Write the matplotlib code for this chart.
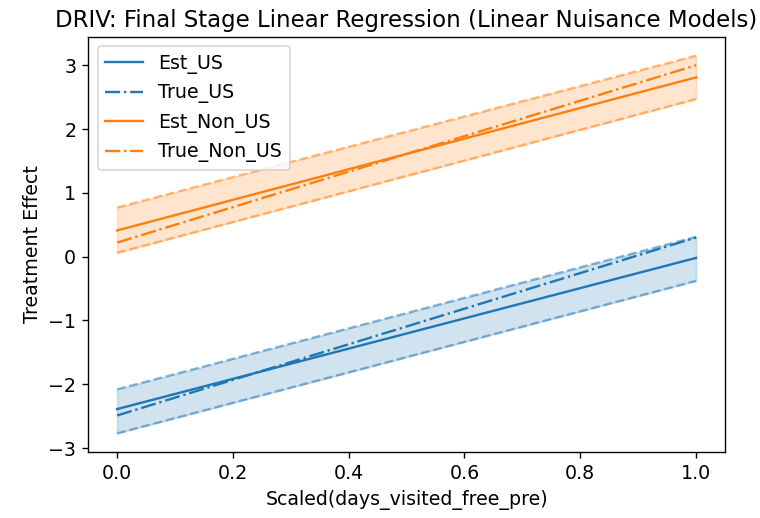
import numpy as np
import matplotlib
matplotlib.use('Agg')
import matplotlib.pyplot as plt

# Valores del efecto en los extremos del rango escalado
x = np.array([0.0, 1.0])

est_us = np.array([-2.39, -0.02])
est_us_lb = np.array([-2.77, -0.38])
est_us_ub = np.array([-2.08, 0.31])
true_us = np.array([-2.49, 0.30])

est_non_us = np.array([0.41, 2.81])
est_non_us_lb = np.array([0.06, 2.47])
est_non_us_ub = np.array([0.77, 3.15])
true_non_us = np.array([0.22, 3.00])

plt.rcParams['font.size'] = 11.2
plt.rcParams['axes.titlesize'] = 13.5
plt.rcParams['lines.linewidth'] = 1.4

dpi = 122
fig = plt.figure(figsize=(760 / dpi, 518 / dpi), dpi=dpi)
ax = fig.add_axes([0.116, 0.127, 0.838, 0.802])

# Grupo US
ax.plot(x, est_us, label='Est_US', color='C0')
ax.plot(x, true_us, '-.', label='True_US', color='C0')
ax.fill_between(x, est_us_lb, est_us_ub, alpha=0.2, color='C0')
ax.plot(x, est_us_lb, '--', color='C0', alpha=0.5)
ax.plot(x, est_us_ub, '--', color='C0', alpha=0.5)

# Grupo Non_US
ax.plot(x, est_non_us, label='Est_Non_US', color='C1')
ax.plot(x, true_non_us, '-.', label='True_Non_US', color='C1')
ax.fill_between(x, est_non_us_lb, est_non_us_ub, alpha=0.2, color='C1')
ax.plot(x, est_non_us_lb, '--', color='C1', alpha=0.5)
ax.plot(x, est_non_us_ub, '--', color='C1', alpha=0.5)

ax.set_xlabel('Scaled(days_visited_free_pre)')
ax.set_ylabel('Treatment Effect')
ax.set_title('DRIV: Final Stage Linear Regression (Linear Nuisance Models)')
ax.legend(loc='upper left')

fig.savefig('out.png', dpi=dpi)
